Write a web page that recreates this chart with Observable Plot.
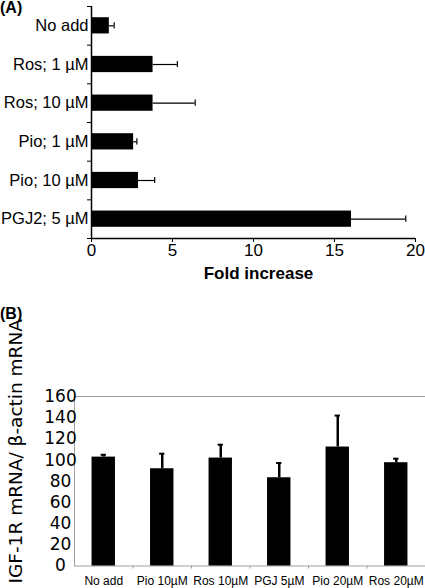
<!DOCTYPE html>
<html><head><meta charset="utf-8">
<script src="https://cdn.jsdelivr.net/npm/d3@7"></script>
<script src="https://cdn.jsdelivr.net/npm/@observablehq/plot@0.6"></script>
<style>
body{margin:0;background:#fff;}
#wrap{position:relative;width:425px;height:588px;overflow:hidden;background:#fff;font-family:"Liberation Sans",Arial,sans-serif;}
.panel{position:absolute;left:0;}
.panel svg{overflow:visible;}
.tag{position:absolute;left:0;font:bold 16px "Liberation Sans",Arial,sans-serif;color:#000;line-height:16px;}
</style></head><body>
<div id="wrap">
  <div id="a" class="panel" style="top:0"></div>
  <div id="b" class="panel" style="top:290px"></div>
  <div class="tag" style="top:0px">(A)</div>
  <div class="tag" style="top:306px">(B)</div>
</div>
<script>
// Panel A data
const catsA = ["No add", "Ros; 1 µM", "Ros; 10 µM", "Pio; 1 µM", "Pio; 10 µM", "PGJ2; 5 µM"];
const valA  = [1.1, 3.8, 3.8, 2.6, 2.9, 16.05];
const errA  = [0.3, 1.5, 2.6, 0.2, 1.0, 3.35];
const ticksA = [0, 5, 10, 15, 20];
const xLabelA = "Fold increase";

// Panel B data
const catsB = ["No add", "Pio 10µM", "Ros 10µM", "PGJ 5µM", "Pio 20µM", "Ros 20µM"];
const valB  = [102.8, 91.8, 101.9, 83.3, 112.3, 97.5];
const errB  = [2.2, 14.2, 12.6, 13.9, 29.7, 3.8];
const ticksB = [0, 20, 40, 60, 80, 100, 120, 140, 160];
const yLabelB = "IGF-1R mRNA/ β-actin mRNA";

const dataA = catsA.map((c, i) => ({c, i, v: valA[i], e: errA[i]}));
const dataB = catsB.map((c, i) => ({c, i, v: valB[i], e: errB[i]}));
const yMaxA = catsA.length - 0.5;

const plotA = Plot.plot({
  width: 425, height: 290,
  marginLeft: 91, marginRight: 10, marginTop: 6, marginBottom: 52,
  style: {fontFamily: "Liberation Sans, Arial, sans-serif", fontSize: "16.5px", color: "#000", background: "transparent"},
  x: {domain: [0, 20], label: null},
  y: {domain: [-0.5, yMaxA], reverse: true, label: null},
  marks: [
    Plot.rectX(dataA, {x1: 0, x2: "v", y1: d => d.i - 0.21, y2: d => d.i + 0.21, fill: "black"}),
    Plot.ruleY(dataA, {x1: "v", x2: d => d.v + d.e, y: "i", stroke: "black", strokeWidth: 1.2}),
    Plot.ruleX(dataA, {x: d => d.v + d.e, y1: d => d.i - 0.08, y2: d => d.i + 0.08, stroke: "black", strokeWidth: 1.2}),
    Plot.axisY({ticks: d3.range(-0.5, catsA.length, 1), tickSize: 4, tickFormat: () => "", label: null}),
    Plot.axisY({ticks: d3.range(catsA.length), tickSize: 0, tickPadding: 3, tickFormat: i => catsA[i], fontSize: 16.5, label: null}),
    Plot.axisX({ticks: ticksA, tickSize: 4, tickPadding: 1, fontSize: 17, label: null}),
    Plot.ruleX([0], {stroke: "black", strokeWidth: 1.5}),
    Plot.ruleY([yMaxA], {stroke: "black", strokeWidth: 1.5}),
    Plot.text([xLabelA], {frameAnchor: "bottom", dy: 35, dx: 5, lineAnchor: "middle", fontWeight: "bold", fontSize: 17})
  ]
});
document.getElementById("a").appendChild(plotA);

const plotB = Plot.plot({
  width: 425, height: 298,
  marginLeft: 74, marginRight: 0, marginTop: 106, marginBottom: 22.5,
  style: {fontFamily: "Liberation Sans, Arial, sans-serif", fontSize: "12px", color: "#000", background: "transparent"},
  x: {domain: [-0.5, catsB.length - 0.5], label: null},
  y: {domain: [0, 160], label: null},
  marks: [
    Plot.frame({stroke: "#a0a0a0"}),
    Plot.rectY(dataB, {x1: d => d.i - 0.2, x2: d => d.i + 0.2, y1: 0, y2: "v", fill: "black"}),
    Plot.ruleX(dataB, {x: "i", y1: "v", y2: d => d.v + d.e, stroke: "black", strokeWidth: 2.5}),
    Plot.ruleY(dataB, {y: d => d.v + d.e, x1: d => d.i - 0.045, x2: d => d.i + 0.045, stroke: "black", strokeWidth: 2}),
    Plot.axisY({ticks: ticksB, tickSize: 0, tickPadding: 14, textAnchor: "middle", fontSize: 17, fontFamily: "DejaVu Sans", label: null}),
    Plot.axisX({ticks: d3.range(0.5, catsB.length - 1, 1), tickSize: 3, tickFormat: () => "", stroke: "#a0a0a0", label: null}),
    Plot.axisX({ticks: d3.range(catsB.length), tickSize: 0, tickPadding: 10, tickFormat: i => catsB[i], fontSize: 12, label: null}),
    Plot.text([yLabelB], {frameAnchor: "left", rotate: -90, dx: -58, dy: -30, textAnchor: "middle", lineAnchor: "middle", fontSize: 18.5, fontFamily: "DejaVu Sans"})
  ]
});
document.getElementById("b").appendChild(plotB);
</script>
</body></html>
